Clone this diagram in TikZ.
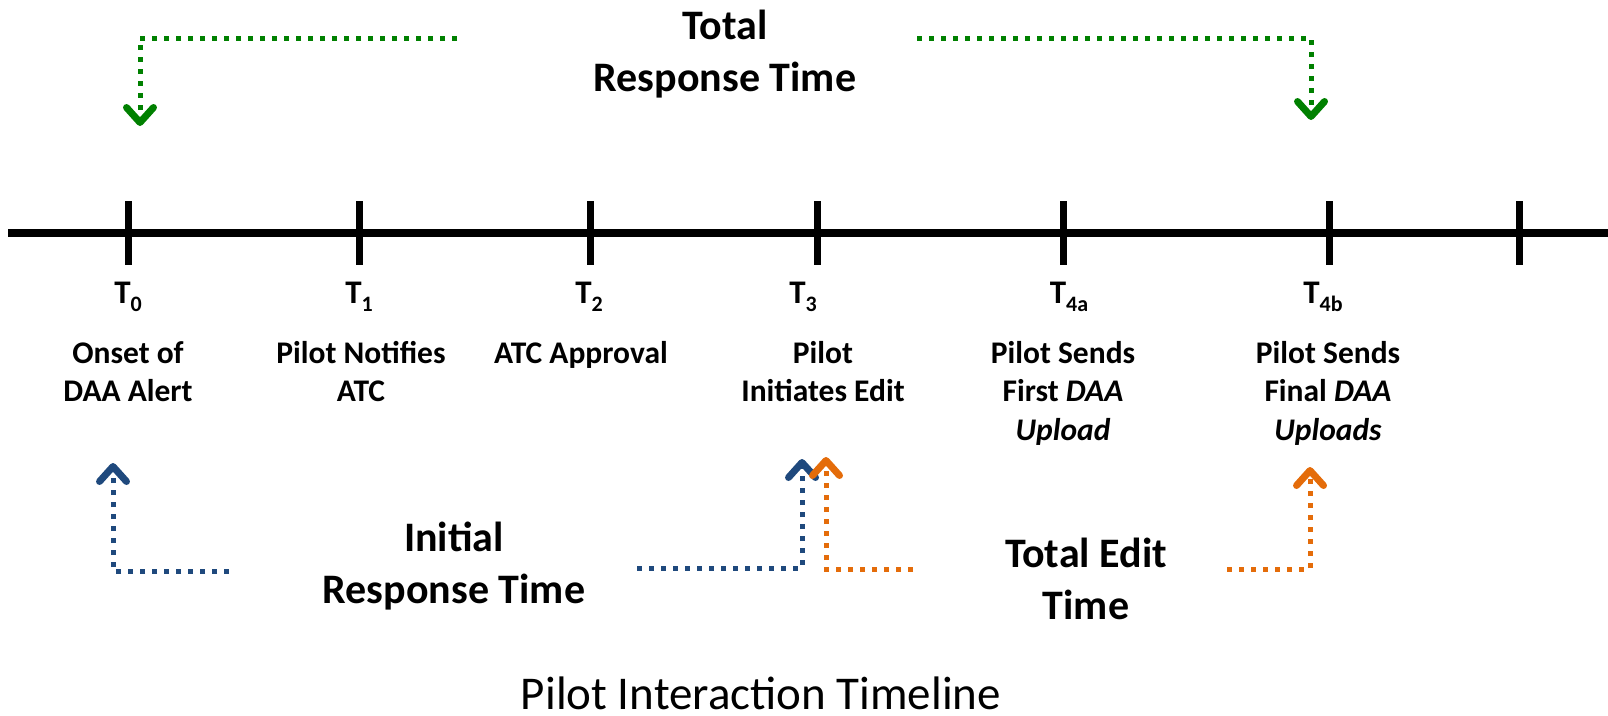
\documentclass[tikz,border=0pt]{standalone}
\usepackage{fontspec}
\setmainfont{Carlito}
\usetikzlibrary{arrows.meta}
\definecolor{arrgreen}{HTML}{008000}
\definecolor{arrblue}{HTML}{1F497D}
\definecolor{arrorange}{HTML}{E46C0A}
\newcommand{\tlab}[1]{T\raisebox{-8.5pt}{\fontsize{22}{22}\selectfont #1}}
\begin{document}
\begin{tikzpicture}[x=1pt,y=-1pt,
  axis/.style={line width=8pt},
  tickmark/.style={line width=7pt},
  lbl/.style={inner sep=0pt,anchor=base,align=center,font=\bfseries\fontsize{31.5}{38.5}\selectfont},
  tl/.style={lbl,font=\bfseries\fontsize{33}{38.5}\selectfont},
  big/.style={inner sep=0pt,anchor=base,align=center,font=\bfseries\fontsize{42}{51.5}\selectfont},
  captiontext/.style={inner sep=0pt,anchor=base,font=\fontsize{47}{54}\selectfont},
  dotarrow/.style={line width=5pt,dash pattern=on 5pt off 7pt,
    -{Straight Barb[length=15pt,width=27pt,line width=7pt,round]}},
  garrow/.style={dotarrow,draw=arrgreen},
  barrow/.style={dotarrow,draw=arrblue},
  oarrow/.style={dotarrow,draw=arrorange}]
\useasboundingbox (0,0) rectangle (1608,715);

% timeline
\coordinate (axL) at (8,233);
\coordinate (axR) at (1608,233);
\draw[axis] (axL) -- (axR);
\foreach \n/\x in {t0/128,t1/359,t2/590,t3/817,t4a/1063,t4b/1329,t5/1519}{
  \coordinate (\n top) at (\x,201);
  \coordinate (\n bot) at (\x,265);
  \draw[tickmark] (\n top) -- (\n bot);
}

% T labels (anchor = baseline of the last line)
\node[tl] (T0) at (128,303) {\tlab{0}};
\node[tl] (T1) at (359,303) {\tlab{1}};
\node[tl] (T2) at (589,303) {\tlab{2}};
\node[tl] (T3) at (803,303) {\tlab{3}};
\node[tl] (T4a) at (1069,303) {\tlab{4a}};
\node[tl] (T4b) at (1323,303) {\tlab{4b}};

% descriptions
\node[lbl] (d0) at (128,401.5) {Onset of\\DAA Alert};
\node[lbl] (d1) at (361,401.5) {Pilot Notifies\\ATC};
\node[lbl] (d2) at (581,363) {ATC Approval};
\node[lbl] (d3) at (823,401.5) {Pilot\\Initiates Edit};
\node[lbl] (d4a) at (1063,440) {Pilot Sends\\First \textit{DAA}\\\textit{Upload}};
\node[lbl] (d4b) at (1328,440) {Pilot Sends\\Final \textit{DAA}\\\textit{Uploads}};

% interval labels
\node[big] (trt) at (725,91) {Total\\Response Time};
\node[big] (irt) at (454,603) {Initial\\Response Time};
\node[big] (tet) at (1086,619) {Total Edit\\Time};

% caption
\node[captiontext] (caption) at (761,709) {Pilot Interaction Timeline};

% green arrows (total response time)
\coordinate (gLs) at (457,38); \coordinate (gLc) at (140,38); \coordinate (gLt) at (140,126);
\draw[garrow] (gLs) -- (gLc) -- (gLt);
\coordinate (gRs) at (917,38); \coordinate (gRc) at (1311,38); \coordinate (gRt) at (1311,120);
\draw[garrow] (gRs) -- (gRc) -- (gRt);

% blue arrows (initial response time)
\coordinate (bLs) at (229,571); \coordinate (bLc) at (113,571); \coordinate (bLt) at (113,463);
\draw[barrow] (bLs) -- (bLc) -- (bLt);
\coordinate (bRs) at (637,568); \coordinate (bRc) at (802,568); \coordinate (bRt) at (802,459);
\draw[barrow] (bRs) -- (bRc) -- (bRt);

% orange arrows (total edit time)
\coordinate (oLs) at (913,569); \coordinate (oLc) at (826,569); \coordinate (oLt) at (826,457);
\draw[oarrow] (oLs) -- (oLc) -- (oLt);
\coordinate (oRs) at (1227,569); \coordinate (oRc) at (1310,569); \coordinate (oRt) at (1310,467);
\draw[oarrow] (oRs) -- (oRc) -- (oRt);
\end{tikzpicture}
\end{document}
